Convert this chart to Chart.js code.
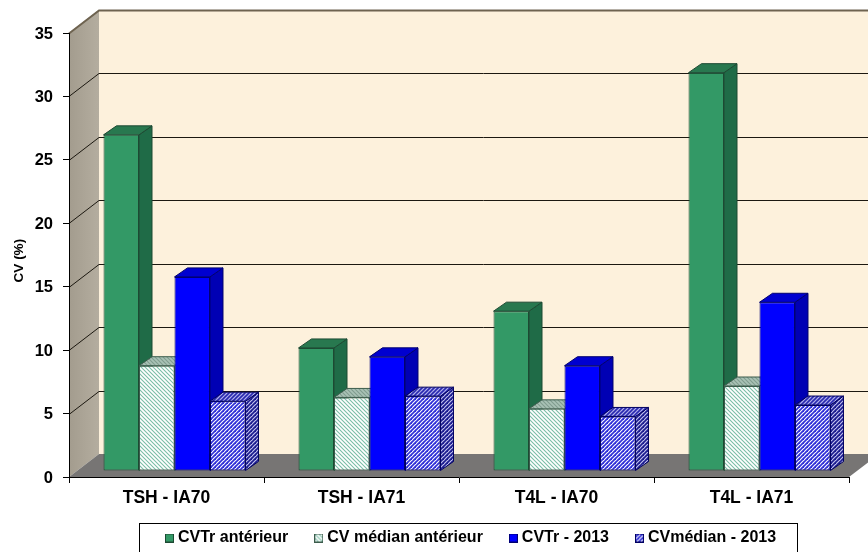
<!DOCTYPE html>
<html>
<head>
<meta charset="utf-8">
<title>CV (%)</title>
<style>
  html, body { margin: 0; padding: 0; background: #fff; }
  canvas { display: block; }
</style>
<script src="https://cdn.jsdelivr.net/npm/chart.js"></script>
</head>
<body>
<canvas id="cvChart" width="868" height="552"></canvas>
<script>
  const categories = ["TSH - IA70", "TSH - IA71", "T4L - IA70", "T4L - IA71"];
  const cvtrAnterieur = [26.5, 9.7, 12.6, 31.4];
  const cvMedianAnterieur = [8.3, 5.8, 4.9, 6.7];
  const cvtr2013 = [15.3, 9.0, 8.3, 13.3];
  const cvMedian2013 = [5.5, 5.9, 4.3, 5.2];

  // 4px repeating diagonal, dir 1 = "/" and -1 = "\"
  function hatch(bg, fg, dir, lineWidth) {
    const tile = document.createElement("canvas");
    tile.width = 4;
    tile.height = 4;
    const c = tile.getContext("2d");
    c.fillStyle = bg;
    c.fillRect(0, 0, 4, 4);
    c.strokeStyle = fg;
    c.lineWidth = lineWidth;
    for (let k = -4; k <= 8; k += 4) {
      c.beginPath();
      if (dir > 0) {
        c.moveTo(k - 1, 5);
        c.lineTo(k + 5, -1);
      } else {
        c.moveTo(k - 1, -1);
        c.lineTo(k + 5, 5);
      }
      c.stroke();
    }
    return c.createPattern(tile, "repeat");
  }

  const ctx = document.getElementById("cvChart").getContext("2d");

  // faces of each series: front, side, top, outline
  const faces = [
    { front: "#339966", side: "#1f6b47", top: "#28784f", line: "#1d4a33" },
    {
      front: hatch("#ffffff", "#79bda6", -1, 1.1),
      side: "#7f9c8e",
      top: hatch("#a9c2b6", "#7f9c8e", -1, 1.1),
      line: "#3c5c4c"
    },
    { front: "#0000ff", side: "#0000b4", top: "#0000d0", line: "#000070" },
    {
      front: hatch("#ffffff", "#3030d8", 1, 1.8),
      side: hatch("#c8c8f0", "#1c1c90", 1, 1.8),
      top: hatch("#b4b4ec", "#2828b0", 1, 1.6),
      line: "#000060"
    }
  ];

  // small legend keys; a canvas point style keeps them close to their text
  const swatches = faces.map(f => {
    const key = document.createElement("canvas");
    key.width = 9;
    key.height = 9;
    const c = key.getContext("2d");
    c.fillStyle = f.front;
    c.fillRect(0, 0, 9, 9);
    c.strokeStyle = f.line;
    c.strokeRect(0.5, 0.5, 8, 8);
    return key;
  });

  // projection of the chart box: back wall offset from the front axes,
  // and where the bars sit on the floor
  const wallDx = 30, wallDy = -23;
  const barDx = 8, barDy = -6;
  const depthDx = 13, depthDy = -9;

  function poly(c, pts, fill, stroke) {
    c.beginPath();
    pts.forEach((p, i) => i ? c.lineTo(p[0], p[1]) : c.moveTo(p[0], p[1]));
    c.closePath();
    c.fillStyle = fill;
    c.fill();
    if (stroke) {
      c.strokeStyle = stroke;
      c.lineWidth = 1;
      c.stroke();
    }
  }

  const boxPlugin = {
    id: "box3d",
    beforeDraw(chart) {
      const c = chart.ctx;
      const a = chart.chartArea;
      const y = chart.scales.y;
      const top = a.top + wallDy, floor = a.bottom + wallDy;
      const bx = a.left + wallDx;

      c.save();
      // back wall
      c.fillStyle = "#fdf1dc";
      c.fillRect(bx, top, chart.width - bx, floor - top);

      // side wall
      const g = c.createLinearGradient(a.left, 0, bx, 0);
      g.addColorStop(0, "#a39c8e");
      g.addColorStop(1, "#b4ad9f");
      poly(c, [[a.left, a.top], [bx, top], [bx, floor], [a.left, a.bottom]], g);

      // floor
      poly(c, [[a.left, a.bottom], [bx, floor], [a.right + wallDx, floor], [a.right, a.bottom]], "#777574");

      // grid lines run across the side wall then the back wall
      c.lineWidth = 1;
      y.ticks.forEach(t => {
        if (t.value === 0) return;
        const py = Math.round(y.getPixelForValue(t.value)) + 0.5;
        c.strokeStyle = t.value === 35 ? "#6e6350" : "#1c1810";
        c.lineWidth = t.value === 35 ? 2 : 1;
        c.beginPath();
        c.moveTo(a.left, py);
        c.lineTo(bx, py + wallDy);
        c.lineTo(chart.width, py + wallDy);
        c.stroke();
      });

      // legend frame, open at the bottom edge of the page
      c.fillStyle = "#ffffff";
      c.fillRect(139.5, 523.5, 658, 40);
      c.strokeStyle = "#000000";
      c.lineWidth = 1;
      c.strokeRect(139.5, 523.5, 658, 40);
      c.restore();
    },
    afterLayout(chart) {
      const l = chart.legend;
      l.left = 139;
      l.right = 868;
      l.top = 500;
      // category labels are clipped to the scale box, let them overlap the legend's band
      chart.scales.x.bottom = 520;
    },
    // bars are painted series by series from the left so each one hides
    // the depth of the previous one
    beforeDatasetDraw() {
      return false;
    },
    afterDatasetsDraw(chart) {
      const c = chart.ctx;
      chart.getSortedVisibleDatasetMetas().forEach(meta => {
        const f = faces[meta.index];
        c.save();
        c.translate(barDx, barDy);
        meta.data.forEach(bar => {
          const x0 = bar.x - bar.width / 2, x1 = bar.x + bar.width / 2;
          poly(c, [[x1, bar.y], [x1 + depthDx, bar.y + depthDy], [x1 + depthDx, bar.base + depthDy], [x1, bar.base]], f.side, f.line);
          poly(c, [[x0, bar.y], [x0 + depthDx, bar.y + depthDy], [x1 + depthDx, bar.y + depthDy], [x1, bar.y]], f.top, f.line);
        });
        meta.controller.draw();
        c.restore();
      });
    }
  };

  new Chart(ctx, {
    type: "bar",
    plugins: [boxPlugin],
    data: {
      labels: categories,
      datasets: [
        { label: "CVTr antérieur", data: cvtrAnterieur },
        { label: "CV médian antérieur", data: cvMedianAnterieur },
        { label: "CVTr - 2013", data: cvtr2013 },
        { label: "CVmédian - 2013", data: cvMedian2013 }
      ].map((d, i) => ({
        ...d,
        backgroundColor: faces[i].front,
        borderColor: faces[i].line,
        borderWidth: 1,
        borderSkipped: false,
        categoryPercentage: 0.728,
        barPercentage: 1
      }))
    },
    options: {
      responsive: false,
      animation: false,
      layout: { padding: { top: 33, right: 19, left: 0, bottom: 0 } },
      plugins: {
        tooltip: { enabled: false },
        legend: {
          position: "bottom",
          align: "start",
          labels: {
            usePointStyle: true,
            boxWidth: 1,
            boxHeight: 9,
            padding: 30,
            color: "#000",
            font: { family: "Liberation Sans", size: 16, weight: "bold" },
            generateLabels: chart =>
              Chart.defaults.plugins.legend.labels.generateLabels(chart)
                .map(item => ({ ...item, pointStyle: swatches[item.datasetIndex] })),
            sort: (a, b) => a.datasetIndex - b.datasetIndex
          }
        }
      },
      scales: {
        x: {
          afterFit: s => { s.height = 19; },
          grid: { drawOnChartArea: false, color: "#000", tickLength: 6 },
          border: { color: "#000", width: 1 },
          ticks: {
            color: "#000",
            padding: 5,
            font: { family: "Liberation Sans", size: 17.5, weight: "bold" }
          }
        },
        y: {
          min: 0,
          max: 35,
          afterFit: s => { s.width = 69; },
          title: {
            display: true,
            text: "CV (%)   ",
            color: "#000",
            padding: { top: 11, bottom: 0 },
            font: { family: "Liberation Sans", size: 13.5, weight: "bold" }
          },
          grid: { drawOnChartArea: false, color: "#000", tickLength: 6 },
          border: { color: "#000", width: 1 },
          ticks: {
            stepSize: 5,
            color: "#000",
            padding: 10,
            labelOffset: 1,
            font: { family: "Liberation Sans", size: 16.5, weight: "bold" }
          }
        }
      }
    }
  });
</script>
</body>
</html>
